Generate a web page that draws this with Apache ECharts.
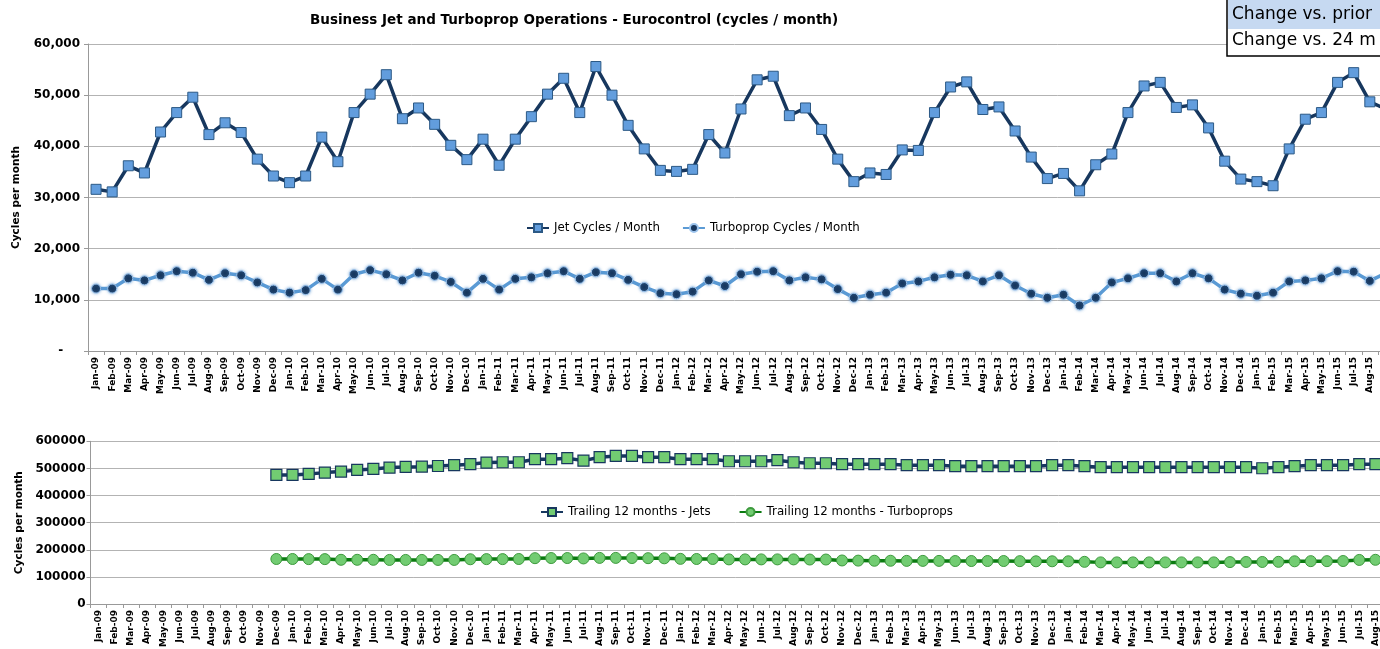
<!DOCTYPE html>
<html><head><meta charset="utf-8">
<script src="https://cdn.jsdelivr.net/npm/echarts@6/dist/echarts.min.js"></script>
<style>html,body{margin:0;padding:0;background:#fff}#c{width:1380px;height:649px}</style>
</head><body><div id="c"></div>
<script>
const months = ['Jan-09','Feb-09','Mar-09','Apr-09','May-09','Jun-09','Jul-09','Aug-09','Sep-09','Oct-09','Nov-09','Dec-09',
'Jan-10','Feb-10','Mar-10','Apr-10','May-10','Jun-10','Jul-10','Aug-10','Sep-10','Oct-10','Nov-10','Dec-10',
'Jan-11','Feb-11','Mar-11','Apr-11','May-11','Jun-11','Jul-11','Aug-11','Sep-11','Oct-11','Nov-11','Dec-11',
'Jan-12','Feb-12','Mar-12','Apr-12','May-12','Jun-12','Jul-12','Aug-12','Sep-12','Oct-12','Nov-12','Dec-12',
'Jan-13','Feb-13','Mar-13','Apr-13','May-13','Jun-13','Jul-13','Aug-13','Sep-13','Oct-13','Nov-13','Dec-13',
'Jan-14','Feb-14','Mar-14','Apr-14','May-14','Jun-14','Jul-14','Aug-14','Sep-14','Oct-14','Nov-14','Dec-14',
'Jan-15','Feb-15','Mar-15','Apr-15','May-15','Jun-15','Jul-15','Aug-15','Sep-15'];
const trailingMonths = months.slice(0, 80);

const jetCycles = [31600,31100,36200,34800,42800,46600,49600,42300,44600,42700,37500,34200,
32900,34200,41800,37000,46600,50200,54000,45400,47500,44300,40200,37400,
41400,36300,41400,45800,50200,53300,46600,55600,50000,44100,39500,35300,
35100,35500,42300,38700,47300,53000,53700,46000,47500,43300,37500,33100,
34800,34500,39300,39200,46600,51600,52600,47200,47700,43000,37900,33700,
34700,31300,36400,38500,46600,51800,52500,47600,48100,43600,37100,33600,
33100,32300,39500,45300,46600,52500,54400,48700,47300];

const turbopropCycles = [12200,12200,14200,13800,14800,15600,15300,13900,15200,14800,13400,12000,
11400,11900,14100,12000,15000,15800,15000,13800,15300,14700,13500,11400,
14100,12000,14100,14400,15200,15600,14100,15400,15200,13900,12500,11300,
11100,11600,13800,12700,15000,15500,15600,13800,14400,14000,12100,10400,
11000,11400,13200,13600,14400,14900,14800,13600,14800,12800,11200,10400,
11000,8900,10400,13400,14200,15200,15200,13600,15200,14200,12000,11200,
10800,11400,13600,13800,14200,15600,15500,13700,15200];

const trailingJets = [null,null,null,null,null,null,null,null,null,null,null,
476000,476000,479700,484500,488200,494500,498200,503000,505500,506600,509000,511800,
515500,521400,522700,522700,533900,533900,537600,528800,541300,546100,546100,541300,541300,
533900,533900,533900,526500,526500,526500,530300,522700,519100,519100,515500,515500,
515500,515500,511800,511800,511800,508100,508100,508100,508100,508100,508100,511800,
511800,508100,504400,504400,504400,504400,504400,504400,504400,504400,504400,504400,
500700,504400,508100,511800,511800,511800,515500,515500];

const trailingTurboprops = [null,null,null,null,null,null,null,null,null,null,null,
166000,166000,165500,165500,163000,163000,163000,162500,162500,162500,162500,162500,
165000,165500,165500,166000,169000,169500,169500,168000,170000,170000,169500,169000,168500,
166500,166000,166000,164500,164500,164500,164500,164500,164000,164000,160500,160000,
159500,159500,159000,159000,159000,158500,158500,158500,158500,158000,157500,157500,
157500,155500,153500,153500,153500,153500,153500,153500,153500,153500,154500,155000,
155000,155500,157500,158000,158000,158500,162500,163000];

const topTicks = [0, 60000, 10000];
const bottomTicks = [0, 600000, 100000];

const FONT = 'DejaVu Sans';
const navy = '#17375e';
const lightBlue = '#5b9bd5';
const jetFill = '#629ddd';
const green = '#72cc72';
const darkGreen = '#0a7a10';
const gridColor = '#b3b3b3';

const chart = echarts.init(document.getElementById('c'));
const catAxisCommon = {
  type: 'category', boundaryGap: true,
  axisLine: {lineStyle: {color: '#999', width: 1}},
  axisTick: {show: true, length: 4, lineStyle: {color: '#999'}},
  axisLabel: {interval: 0, rotate: 90, fontFamily: FONT, fontWeight: 'bold', fontSize: 9, color: '#000', margin: 6},
  splitLine: {show: false}
};
const valAxisCommon = {
  type: 'value',
  nameLocation: 'middle', nameRotate: 90,
  nameTextStyle: {fontFamily: FONT, fontWeight: 'bold', fontSize: 10.5, color: '#000'},
  axisLine: {show: true, lineStyle: {color: '#999'}},
  axisTick: {show: true, length: 4, lineStyle: {color: '#999'}},
  splitLine: {show: true, lineStyle: {color: gridColor, width: 1}}
};

chart.setOption({
  animation: false,
  backgroundColor: '#fff',
  title: {
    text: 'Business Jet and Turboprop Operations - Eurocontrol (cycles / month)',
    left: 305, top: 8,
    textStyle: {fontFamily: FONT, fontWeight: 'bold', fontSize: 13.5, color: '#000'}
  },
  grid: [
    {left: 88, top: 44, width: 1306, height: 307, outerBoundsMode: 'none', containLabel: false},
    {left: 90.5, top: 441.3, width: 1293, height: 162.7, outerBoundsMode: 'none', containLabel: false}
  ],
  legend: [
    {data: ['Jet Cycles / Month', 'Turboprop Cycles / Month'], left: 521, top: 217,
     itemWidth: 22, itemHeight: 10, itemGap: 22,
     textStyle: {fontFamily: FONT, fontSize: 11.8, color: '#000'}},
    {data: ['Trailing 12 months - Jets', 'Trailing 12 months - Turboprops'], left: 535, top: 501,
     itemWidth: 22, itemHeight: 10, itemGap: 28,
     textStyle: {fontFamily: FONT, fontSize: 11.8, color: '#000'}}
  ],
  xAxis: [
    Object.assign({}, catAxisCommon, {gridIndex: 0, data: months}),
    Object.assign({}, catAxisCommon, {gridIndex: 1, data: trailingMonths})
  ],
  yAxis: [
    Object.assign({}, valAxisCommon, {
      gridIndex: 0, min: topTicks[0], max: topTicks[1], interval: topTicks[2],
      name: 'Cycles per month', nameGap: 66,
      axisLabel: {fontFamily: FONT, fontWeight: 'bold', fontSize: 12, color: '#000', margin: 8,
        formatter: v => v === 0 ? '-    ' : String(v).replace(/\B(?=(\d{3})+(?!\d))/g, ',')}
    }),
    Object.assign({}, valAxisCommon, {
      gridIndex: 1, min: bottomTicks[0], max: bottomTicks[1], interval: bottomTicks[2],
      name: 'Cycles per month', nameGap: 64,
      axisLabel: {fontFamily: FONT, fontWeight: 'bold', fontSize: 12, color: '#000', margin: 5,
        formatter: v => String(v)}
    })
  ],
  series: [
    {name: 'Jet Cycles / Month', type: 'line', xAxisIndex: 0, yAxisIndex: 0, data: jetCycles,
     symbol: 'rect', symbolSize: 10,
     lineStyle: {color: navy, width: 3.5},
     itemStyle: {color: jetFill, borderColor: '#2c5985', borderWidth: 1}},
    {name: 'Turboprop Cycles / Month', type: 'line', xAxisIndex: 0, yAxisIndex: 0, data: turbopropCycles,
     symbol: 'circle', symbolSize: 9,
     lineStyle: {color: lightBlue, width: 3.5},
     itemStyle: {color: navy, borderColor: '#9cc3ec', borderWidth: 1, shadowColor: 'rgba(90,150,210,0.7)', shadowBlur: 3}},
    {name: 'Trailing 12 months - Jets', type: 'line', xAxisIndex: 1, yAxisIndex: 1, data: trailingJets,
     symbol: 'rect', symbolSize: 11,
     lineStyle: {color: navy, width: 3.5},
     itemStyle: {color: green, borderColor: navy, borderWidth: 1.2}},
    {name: 'Trailing 12 months - Turboprops', type: 'line', xAxisIndex: 1, yAxisIndex: 1, data: trailingTurboprops,
     symbol: 'circle', symbolSize: 11,
     lineStyle: {color: darkGreen, width: 3.5},
     itemStyle: {color: green, borderColor: '#3d9a3d', borderWidth: 1}}
  ],
  graphic: [
    {type: 'rect', z: 100, shape: {x: 1227, y: -30, width: 200, height: 86},
     style: {fill: '#fff', stroke: '#000', lineWidth: 1.5}},
    {type: 'rect', z: 101, shape: {x: 1228, y: 0, width: 200, height: 29},
     style: {fill: '#c6d9f1'}},
    {type: 'text', z: 102, left: 1232, top: 6,
     style: {text: 'Change vs. prior', fontFamily: FONT, fontSize: 17, fill: '#000'}},
    {type: 'text', z: 102, left: 1232, top: 32,
     style: {text: 'Change vs. 24 m', fontFamily: FONT, fontSize: 17, fill: '#000'}}
  ]
});
</script></body></html>
